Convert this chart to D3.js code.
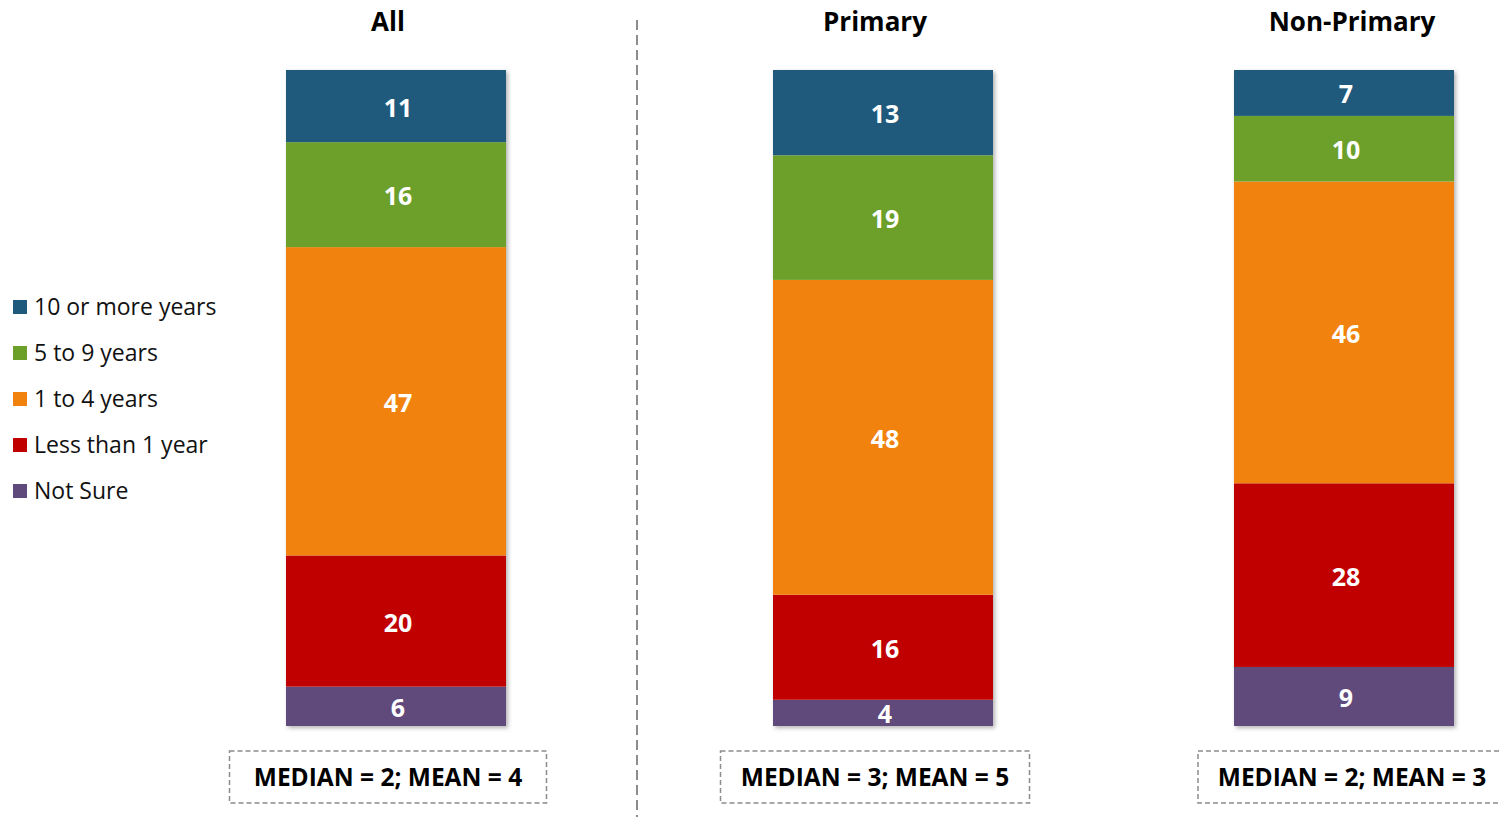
<!DOCTYPE html>
<html lang="en">
<head>
<meta charset="utf-8">
<title>Years in position</title>
<script src="https://d3js.org/d3.v7.min.js"></script>
<style>
  body { margin: 0; background: #fff; }
  text { font-family: 'Open Sans', sans-serif; }
</style>
</head>
<body>
<script type="text/javascript">
  // data
  var groups = ["All", "Primary", "Non-Primary"]
  var categories = ["Not Sure", "Less than 1 year", "1 to 4 years", "5 to 9 years", "10 or more years"]
  var notSure   = [6, 4, 9]
  var lessThan1 = [20, 16, 28]
  var oneToFour = [47, 48, 46]
  var fiveToNine = [16, 19, 10]
  var tenPlus   = [11, 13, 7]
  var medians = [2, 3, 2]
  var means = [4, 5, 3]

  var colors = ["#604a7b", "#c00000", "#f0820d", "#6ca02b", "#1f5a7c"]
  var seriesValues = [notSure, lessThan1, oneToFour, fiveToNine, tenPlus]

  var width = 1499, height = 817

  var svg = d3.select("body").append("svg")
      .attr("width", width)
      .attr("height", height)

  var defs = svg.append("defs")
  var shadow = defs.append("filter").attr("id", "shadow")
      .attr("x", "-5%").attr("y", "-5%").attr("width", "115%").attr("height", "115%")
  shadow.append("feDropShadow")
      .attr("dx", 2).attr("dy", 2).attr("stdDeviation", 2)
      .attr("flood-color", "#000").attr("flood-opacity", 0.3)

  // scales
  var barCenter = d3.scaleOrdinal().domain(groups).range([396, 883, 1344])
  var panelCenter = d3.scaleOrdinal().domain(groups).range([388, 875, 1352])
  var barWidth = 220
  var y = d3.scaleLinear().domain([0, 100]).range([726, 70])
  var color = d3.scaleOrdinal().domain(categories).range(colors)

  // stack rows
  var rows = groups.map(function(g, i) {
    var r = { group: g }
    categories.forEach(function(c, j) { r[c] = seriesValues[j][i] })
    return r
  })
  var stacked = d3.stack().keys(categories)(rows)

  var bars = svg.append("g")

  groups.forEach(function(g) {
    bars.append("rect")
        .attr("x", barCenter(g) - barWidth / 2)
        .attr("y", y(100))
        .attr("width", barWidth)
        .attr("height", y(0) - y(100))
        .attr("fill", "#fff")
        .attr("filter", "url(#shadow)")
  })

  var layer = bars.selectAll("g.layer")
      .data(stacked)
      .join("g")
      .attr("class", "layer")
      .attr("fill", function(d) { return color(d.key) })

  layer.selectAll("rect")
      .data(function(d) { return d })
      .join("rect")
      .attr("x", function(d) { return barCenter(d.data.group) - barWidth / 2 })
      .attr("y", function(d) { return y(d[1]) })
      .attr("width", barWidth)
      .attr("height", function(d) { return y(d[0]) - y(d[1]) })

  layer.selectAll("text")
      .data(function(d) { return d })
      .join("text")
      .attr("x", function(d) { return barCenter(d.data.group) + 2 })
      .attr("y", function(d) { return (y(d[0]) + y(d[1])) / 2 })
      .attr("dy", "0.42em")
      .attr("text-anchor", "middle")
      .attr("fill", "#fff")
      .attr("font-weight", "bold")
      .attr("font-size", "25px")
      .text(function(d) { return d[1] - d[0] })

  // titles
  svg.append("g").selectAll("text")
      .data(groups)
      .join("text")
      .attr("x", function(d) { return panelCenter(d) })
      .attr("y", 31)
      .attr("text-anchor", "middle")
      .attr("font-weight", "bold")
      .attr("font-size", "26px")
      .attr("fill", "#000")
      .text(function(d) { return d })

  // divider
  svg.append("line")
      .attr("x1", 637).attr("x2", 637)
      .attr("y1", 20).attr("y2", height)
      .attr("stroke", "#8c8c8c")
      .attr("stroke-width", 2)
      .attr("stroke-dasharray", "10,5")

  // median / mean boxes
  var boxW = [317, 309, 308]
  var box = svg.append("g").selectAll("g")
      .data(groups)
      .join("g")

  box.append("rect")
      .attr("x", function(d, i) { return panelCenter(d) - boxW[i] / 2 })
      .attr("y", 751)
      .attr("width", function(d, i) { return boxW[i] })
      .attr("height", 52)
      .attr("fill", "none")
      .attr("stroke", "#8c8c8c")
      .attr("stroke-width", 1.5)
      .attr("stroke-dasharray", "5,3")

  box.append("text")
      .attr("x", function(d) { return panelCenter(d) })
      .attr("y", 777)
      .attr("dy", "0.36em")
      .attr("text-anchor", "middle")
      .attr("font-weight", "bold")
      .attr("font-size", "24.5px")
      .attr("fill", "#000")
      .text(function(d, i) { return "MEDIAN = " + medians[i] + "; MEAN = " + means[i] })

  // legend
  var legendOrder = categories.slice().reverse()
  var legend = svg.append("g").selectAll("g")
      .data(legendOrder)
      .join("g")
      .attr("transform", function(d, i) { return "translate(13," + (307 + i * 46) + ")" })

  legend.append("rect")
      .attr("x", 0).attr("y", -7)
      .attr("width", 14).attr("height", 14)
      .attr("fill", function(d) { return color(d) })

  legend.append("text")
      .attr("x", 21)
      .attr("dy", "0.36em")
      .attr("font-size", "23px")
      .attr("fill", "#111")
      .text(function(d) { return d })
</script>
</body>
</html>
